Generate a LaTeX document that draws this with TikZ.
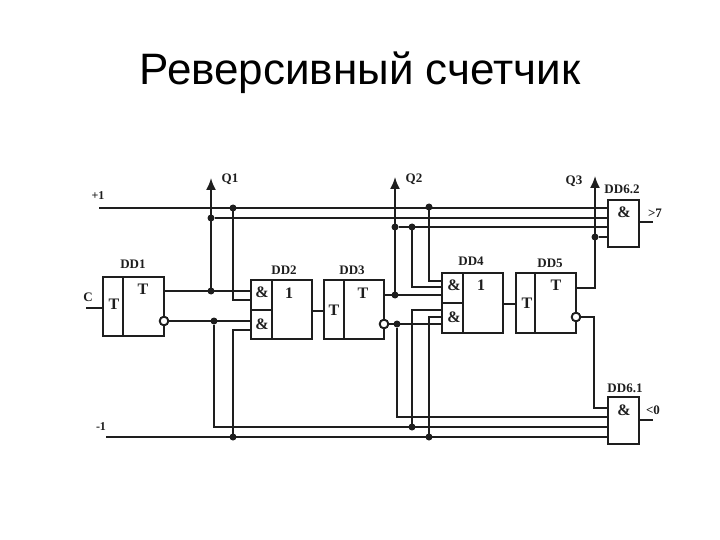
\documentclass[tikz,border=0pt]{standalone}
\usepackage{fontspec}
\setmainfont{Liberation Serif}
\newfontfamily\titlefont{Liberation Sans}
\usetikzlibrary{arrows.meta}
\definecolor{ink}{HTML}{1E1E1E}
\tikzset{
  wire/.style={draw=ink,line width=1.8pt,line join=miter},
  heavy/.style={draw=ink,line width=2.6pt},
  outp/.style={wire,-{Latex[length=12pt,width=10pt]}},
  box/.style={draw=ink,line width=1.9pt,fill=white,inner sep=0pt,outer sep=0pt},
  jdot/.style={circle,fill=ink,inner sep=0pt,minimum size=7pt,outer sep=0pt},
  bubble/.style={circle,draw=ink,line width=1.8pt,fill=white,inner sep=0pt,minimum size=8.5pt,outer sep=0pt},
  lab/.style={font=\bfseries\fontsize{13}{13}\selectfont,text=ink,inner sep=0pt},
  sym/.style={font=\bfseries\fontsize{16}{16}\selectfont,text=ink,inner sep=0pt},
  gate/.style={font=\bfseries\fontsize{16}{16}\selectfont,text=ink,inner sep=0pt},
}
\begin{document}
\begin{tikzpicture}[x=1pt,y=-1pt]
\useasboundingbox (0,0) rectangle (720,540);
\fill[white] (0,0) rectangle (720,540);
\node[font=\titlefont\fontsize{44}{44}\selectfont,text=black,inner sep=0pt,anchor=base] (title) at (360,85) {Реверсивный счетчик};

% boxes
\node[box,minimum width=61pt,minimum height=59pt] (dd1) at (133.5,306.5) {};
\node[box,minimum width=61pt,minimum height=59pt] (dd2) at (281.5,309.5) {};
\node[box,minimum width=60pt,minimum height=59pt] (dd3) at (354,309.5) {};
\node[box,minimum width=61pt,minimum height=60pt] (dd4) at (472.5,303) {};
\node[box,minimum width=60pt,minimum height=60pt] (dd5) at (546,303) {};
\node[box,minimum width=31pt,minimum height=47pt] (dd62) at (623.5,223.5) {};
\node[box,minimum width=31pt,minimum height=47pt] (dd61) at (623.5,420.5) {};

% inner dividers
\draw[wire] (123,0 |- dd1.north) -- (123,0 |- dd1.south);
\draw[wire] (272,0 |- dd2.north) -- (272,0 |- dd2.south);
\draw[wire] (dd2.west |- 0,310) -- (272,310);
\draw[wire] (344,0 |- dd3.north) -- (344,0 |- dd3.south);
\draw[heavy] (463,0 |- dd4.north) -- (463,0 |- dd4.south);
\draw[wire] (dd4.west |- 0,303) -- (463,303);
\draw[wire] (535,0 |- dd5.north) -- (535,0 |- dd5.south);

% labels
\node[lab] (l1) at (133,264) {DD1};
\node[lab] (l2) at (284,270) {DD2};
\node[lab] (l3) at (352,270) {DD3};
\node[lab] (l4) at (471,261) {DD4};
\node[lab] (l5) at (550,263) {DD5};
\node[lab] (l62) at (622,189) {DD6.2};
\node[lab] (l61) at (625,388) {DD6.1};
\node[lab] (lq1) at (230,179) {Q1};
\node[lab] (lq2) at (414,179) {Q2};
\node[lab] (lq3) at (574,181) {Q3};
\node[lab,font=\bfseries\fontsize{12}{12}\selectfont] (lp) at (98,196) {+1};
\node[lab,font=\bfseries\fontsize{12}{12}\selectfont] (lm) at (101,427) {-1};
\node[lab] (lc) at (88,297) {C};
\node[lab] (lgt) at (655,213) {>7};
\node[lab] (llt) at (653,410) {<0};

\node[sym] (t1a) at (114,304) {T};
\node[sym] (t1b) at (143,289) {T};
\node[sym] (t3a) at (334,310) {T};
\node[sym] (t3b) at (363,293) {T};
\node[sym] (t5a) at (527,303) {T};
\node[sym] (t5b) at (556,285) {T};
\node[sym] (o2) at (289,293) {1};
\node[sym] (o4) at (481,285) {1};
\node[gate] (a21) at (262,292) {\&};
\node[gate] (a22) at (262,324) {\&};
\node[gate] (a41) at (454,285) {\&};
\node[gate] (a42) at (454,317) {\&};
\node[gate] (a62) at (624,212) {\&};
\node[gate] (a61) at (624,410) {\&};

% free ends
\coordinate (cin) at (86,308);
\coordinate (plus) at (99,208);
\coordinate (minus) at (106,437);
\coordinate (q1) at (211,178);
\coordinate (q2) at (395,177);
\coordinate (q3) at (595,176);
\coordinate (out62) at (653,222);
\coordinate (out61) at (653,420);

% junctions and bubbles
\node[bubble] (nd1) at (164,321) {};
\node[bubble] (nd3) at (384,324) {};
\node[bubble] (nd5) at (576,317) {};
\node[jdot] (jq1) at (211,291) {};
\node[jdot] (jq1b) at (211,218) {};
\node[jdot] (jp1) at (233,208) {};
\node[jdot] (jn1) at (214,321) {};
\node[jdot] (jm1) at (233,437) {};
\node[jdot] (jq2) at (395,295) {};
\node[jdot] (jq2b) at (395,227) {};
\node[jdot] (jq2c) at (412,227) {};
\node[jdot] (jp2) at (429,207) {};
\node[jdot] (jn3) at (397,324) {};
\node[jdot] (jn2) at (412,427) {};
\node[jdot] (jm2) at (429,437) {};
\node[jdot] (jq3) at (595,237) {};

% connectors
\draw[wire] (cin) -- (dd1.west |- cin);
\draw[wire] (plus) -- (dd62.west |- plus);
\draw[wire] (jq1b) -- (dd62.west |- jq1b);
\draw[wire] (jq2b) -- (dd62.west |- jq2b);
\draw[wire] (jq3) -- (dd62.west |- jq3);
\draw[wire] (dd62.east |- out62) -- (out62);
\draw[wire] (minus) -- (dd61.west |- minus);
\draw[wire] (jn1) |- (dd61.west |- jn2);
\draw[wire] (jn3) |- (dd61.west |- 0,417);
\draw[wire] (dd61.east |- out61) -- (out61);
\draw[outp] (jq1) -- (q1);
\draw[outp] (jq2) -- (q2);
\draw[wire] (dd1.east |- jq1) -- (dd2.west |- jq1);
\draw[wire] (nd1) -- (dd2.west |- nd1);
\draw[wire] (jp1) |- (dd2.west |- 0,300);
\draw[wire] (jm1) |- (dd2.west |- 0,330);
\draw[wire] (dd2.east |- 0,311) -- (dd3.west |- 0,311);
\draw[wire] (dd3.east |- jq2) -- (dd4.west |- jq2);
\draw[wire] (nd3) -- (dd4.west |- nd3);
\draw[wire] (jp2) |- (dd4.west |- 0,281);
\draw[wire] (jq2c) |- (dd4.west |- 0,287);
\draw[wire] (jn2) |- (dd4.west |- 0,310);
\draw[wire] (jm2) |- (dd4.west |- 0,317);
\draw[wire] (dd4.east |- 0,304) -- (dd5.west |- 0,304);
\draw[heavy] (dd5.east |- 0,288) -| (595,240);
\draw[outp] (jq3) -- (q3);
\draw[wire] (nd5) -| (594,408) -- (dd61.west |- 0,408);
% redraw bubbles on the wires
\node[bubble] at (nd1) {};
\node[bubble] at (nd3) {};
\node[bubble] at (nd5) {};
\end{tikzpicture}
\end{document}
